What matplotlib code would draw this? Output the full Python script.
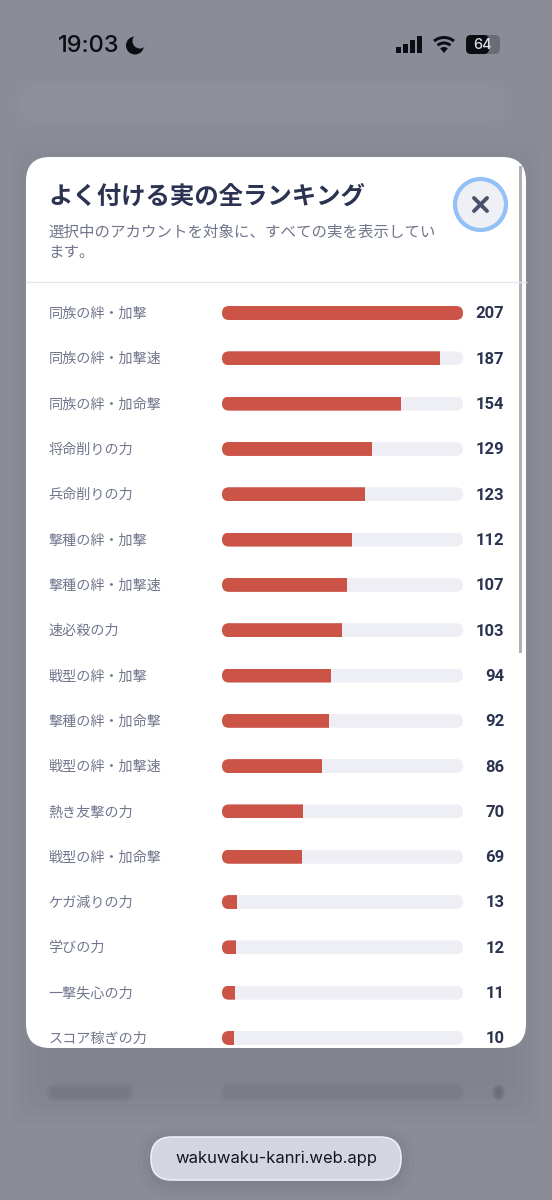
import numpy as np
import matplotlib
matplotlib.use('Agg')
import matplotlib.pyplot as plt
from matplotlib.patches import FancyBboxPatch, Circle, Rectangle, Wedge
from matplotlib.transforms import blended_transform_factory

plt.rcParams['font.family'] = ['Noto Sans CJK JP', 'DejaVu Sans']

LABELS = ['同族の絆・加撃', '同族の絆・加撃速', '同族の絆・加命撃', '将命削りの力', '兵命削りの力',
          '撃種の絆・加撃', '撃種の絆・加撃速', '速必殺の力', '戦型の絆・加撃', '撃種の絆・加命撃',
          '戦型の絆・加撃速', '熱き友撃の力', '戦型の絆・加命撃', 'ケガ減りの力', '学びの力',
          '一撃失心の力', 'スコア稼ぎの力']
VALUES = [207, 187, 154, 129, 123, 112, 107, 103, 94, 92, 86, 70, 69, 13, 12, 11, 10]
MAX_VALUE = 207

TITLE = 'よく付ける実の全ランキング'
SUBTITLE = ['選択中のアカウントを対象に、すべての実を表示してい', 'ます。']
URL = 'wakuwaku-kanri.web.app'

BAR_COLOR = '#cb5447'
TRACK_COLOR = '#eeeff5'
DARK = '#2b3350'
GREY = '#71768c'


def rbox(x0, y0, x1, y1, r, **kw):
    return FancyBboxPatch((x0 + r, y0 + r), x1 - x0 - 2 * r, y1 - y0 - 2 * r,
                          boxstyle='round,pad={},rounding_size={}'.format(r, r), **kw)


def soft_box(ax, x0, y0, x1, y1, color, spread, alpha):
    # stacked boxes stand in for the blur of the page behind
    for g in np.linspace(spread, -spread / 2, 6):
        r = max((y1 - y0) / 2 + g, 1)
        ax.add_patch(rbox(x0 - g, y0 - g, x1 + g, y1 + g, r, fc=color, ec='none', alpha=alpha))


fig = plt.figure(figsize=(5.52, 12), dpi=100, facecolor='#8a8c98')
bg = fig.add_axes([0, 0, 1, 1])
bg.set_xlim(0, 552)
bg.set_ylim(1200, 0)
bg.axis('off')

# blurred page behind the modal
for g, a in [(5, 0.18), (2, 0.22), (-1, 0.25)]:
    bg.add_patch(rbox(20 - g, 85 - g, 502 + g, 122 + g, 14, fc='#91939e', ec='none', alpha=a))
for g, a in [(0, 0.07), (8, 0.08), (16, 0.09), (26, 0.10), (38, 0.10)]:
    bg.add_patch(rbox(10 + g, 142 + g, 542 - g, 1125 - g, 20, fc='#747683', ec='none', alpha=a))
soft_box(bg, 224, 1087, 461, 1098, '#73757f', 4, 0.10)
soft_box(bg, 50, 1087, 130, 1098, '#6d6f7a', 4, 0.10)
soft_box(bg, 496, 1088, 501, 1097, '#5f616c', 4, 0.18)

# status bar
bg.text(58, 46, '19:03', fontsize=17, family='Inter', fontweight='medium', color='#0c0d12',
        ha='left', va='center')
bg.add_patch(Circle((135, 45.5), 9, fc='#0c0d12', ec='none'))
bg.add_patch(Circle((140, 41), 7.5, fc='#888a96', ec='none'))
for x, h in zip([396, 403, 410, 417], [6, 9, 13, 17]):
    bg.add_patch(Rectangle((x, 53 - h), 5, h, fc='#0c0d12', ec='none'))
for r, w in [(17, 3), (11.5, 3), (6, 6)]:
    bg.add_patch(Wedge((444, 53), r, 230, 310, width=w, fc='#0c0d12', ec='none'))
bg.add_patch(rbox(466, 35, 500, 54, 5, fc='#6b6c76', ec='none'))
bg.add_patch(rbox(466, 35, 489, 54, 5, fc='#0c0d12', ec='none'))
bg.text(483, 45, '64', fontsize=10.5, family='Inter', fontweight='medium', color='#dcdde3',
        ha='center', va='center')

# modal
bg.add_patch(rbox(26, 157, 526, 1048, 24, fc='white', ec='none'))
bg.text(48, 196.5, TITLE, fontsize=17.6, fontweight='bold', color=DARK, ha='left', va='center')
bg.text(48, 232, SUBTITLE[0], fontsize=11.15, color=GREY, ha='left', va='center')
bg.text(48, 253, SUBTITLE[1], fontsize=11.15, color=GREY, ha='left', va='center')
bg.plot([26, 526], [282, 282], color='#e6e7ec', lw=1)
bg.add_patch(Circle((480.5, 204.5), 25.5, fc='#eef0f6', ec='#93c0f5', lw=3))
bg.plot([474, 487], [198, 211], color='#4a5168', lw=2.8, solid_capstyle='round')
bg.plot([487, 474], [198, 211], color='#4a5168', lw=2.8, solid_capstyle='round')
bg.add_patch(Rectangle((518.5, 166), 3, 487, fc='#b0b0b0', ec='none'))

# ranking bars
STEP = (1038 - 313) / 16
y_top = 313 - STEP / 2
y_bot = 1038 + STEP / 2
ax = fig.add_axes([222 / 552, 1 - y_bot / 1200, (463 - 222) / 552, (y_bot - y_top) / 1200])
ax.set_xlim(0, MAX_VALUE)
ax.set_ylim(len(VALUES) - 0.5, -0.5)
ax.axis('off')

bar_h = 14 / STEP
tr = blended_transform_factory(bg.transData, ax.transData)
for i, (name, val) in enumerate(zip(LABELS, VALUES)):
    yc = 313 + i * STEP
    clip = rbox(222, yc - 7, 463, yc + 7, 7, transform=bg.transData, fc='none', ec='none')
    ax.add_patch(clip)
    track = ax.barh(i, MAX_VALUE, height=bar_h, color=TRACK_COLOR)
    bar = ax.barh(i, val, height=bar_h, color=BAR_COLOR)
    for p in list(track) + list(bar):
        p.set_clip_path(clip)
    bg.text(48.5, i + 0.02, name, transform=tr, fontsize=10.15, color=GREY, ha='left', va='center')
    bg.text(504.5, i + 0.02, str(val), transform=tr, fontsize=12, family='Roboto', fontweight='bold',
            color=DARK, ha='right', va='center')

# url pill
for g, a in [(14, 0.05), (8, 0.07), (3, 0.09)]:
    bg.add_patch(rbox(151 - g, 1137 - g + 4, 401 + g, 1180 + g + 4, 21 + g, fc='#5f616e', ec='none', alpha=a))
bg.add_patch(rbox(151, 1137, 401, 1180, 21, fc='#d3d6e1', ec='#eceef4', lw=1.2))
bg.text(276, 1159, URL, fontsize=11.95, family='Inter', color='#15161c', ha='center', va='center')

fig.savefig('out.png', dpi=100, facecolor=fig.get_facecolor())
